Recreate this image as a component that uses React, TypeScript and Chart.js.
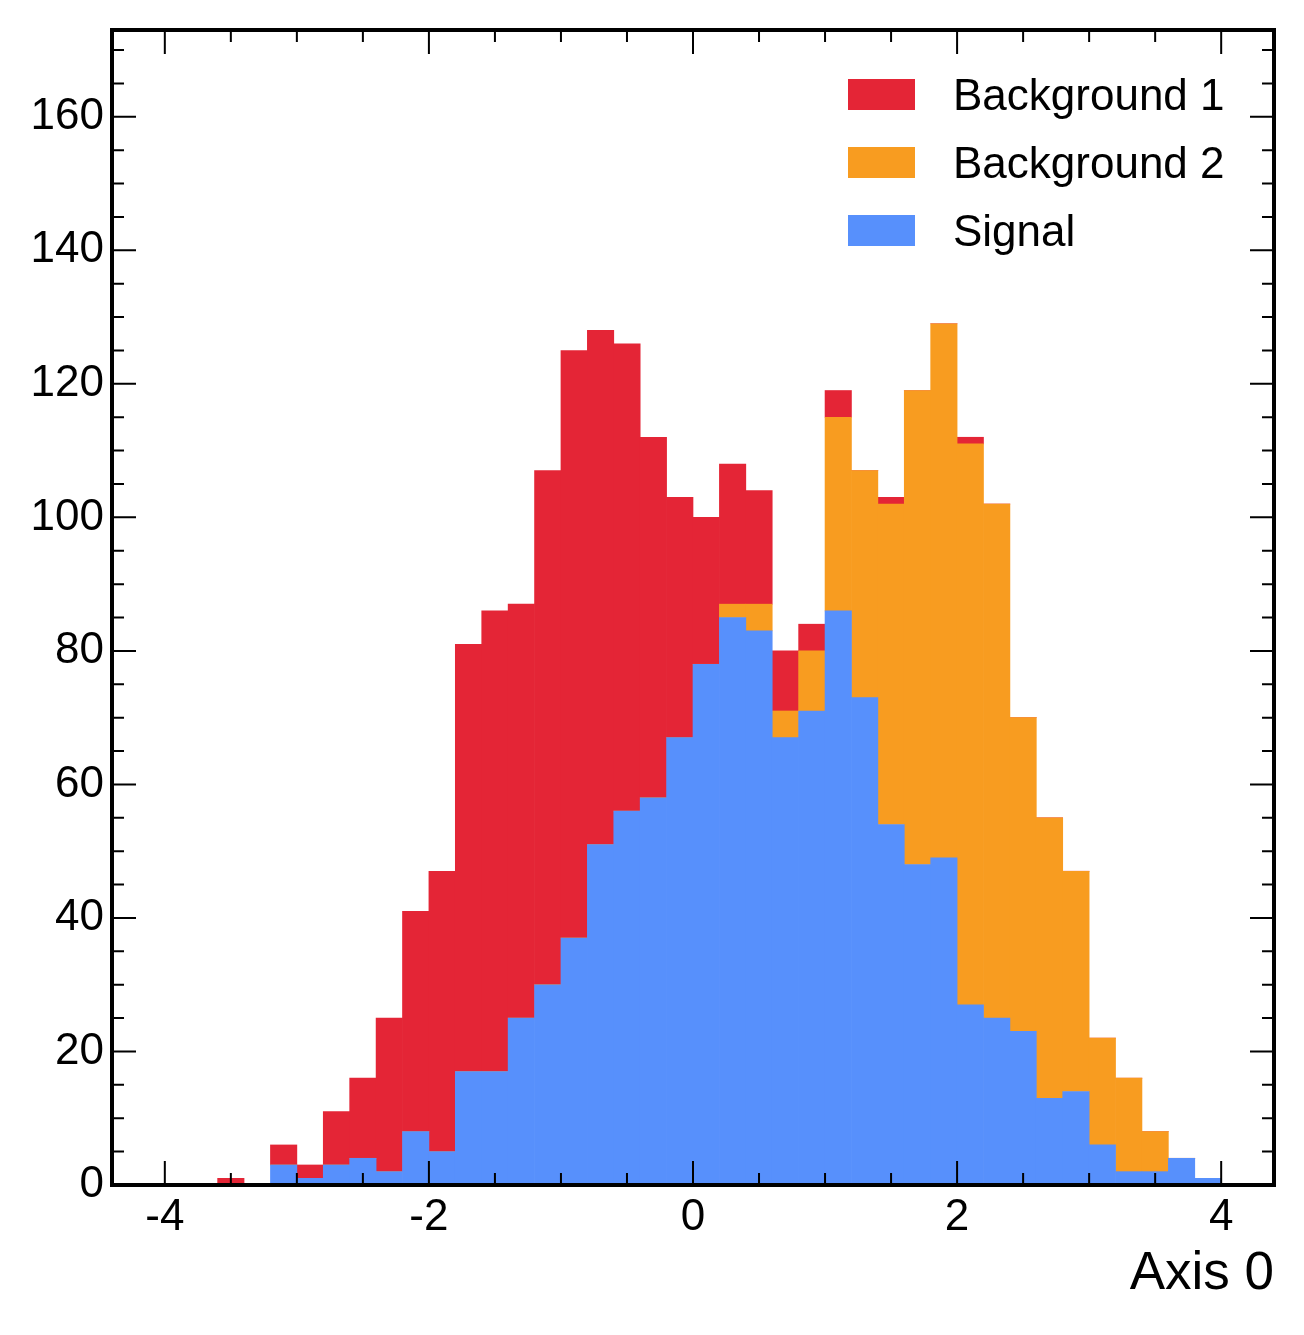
import React, { useEffect, useRef } from 'react';
import { Chart, registerables } from 'chart.js';

Chart.register(...registerables);

// ---- data ----
const binEdges = [
  -4.0, -3.8, -3.6, -3.4, -3.2, -3.0, -2.8, -2.6, -2.4, -2.2,
  -2.0, -1.8, -1.6, -1.4, -1.2, -1.0, -0.8, -0.6, -0.4, -0.2,
  0.0, 0.2, 0.4, 0.6, 0.8, 1.0, 1.2, 1.4, 1.6, 1.8,
  2.0, 2.2, 2.4, 2.6, 2.8, 3.0, 3.2, 3.4, 3.6, 3.8, 4.0,
];

const signal = [
  0, 0, 0, 0, 3, 1, 3, 4, 2, 8,
  5, 17, 17, 25, 30, 37, 51, 56, 58, 67,
  78, 85, 83, 67, 71, 86, 73, 54, 48, 49,
  27, 25, 23, 13, 14, 6, 2, 2, 4, 1,
];

const background2 = [
  0, 0, 0, 0, 0, 0, 0, 0, 0, 0,
  0, 0, 0, 0, 0, 0, 0, 0, 0, 0,
  0, 2, 4, 4, 9, 29, 34, 48, 71, 80,
  84, 77, 47, 42, 33, 16, 14, 6, 0, 0,
];

const background1 = [
  0, 0, 1, 0, 3, 2, 8, 12, 23, 33,
  42, 64, 69, 62, 77, 88, 77, 70, 54, 36,
  22, 21, 17, 9, 4, 4, 0, 1, 0, 0,
  1, 0, 0, 0, 0, 0, 0, 0, 0, 0,
];

const seriesLabels = ['Signal', 'Background 2', 'Background 1'];
const seriesColors = ['#5790fc', '#f89c20', '#e42536'];

const xTickValues = [-4, -2, 0, 2, 4];
const xTickLabels = ['-4', '-2', '0', '2', '4'];
const yTickValues = [0, 20, 40, 60, 80, 100, 120, 140, 160];
const yTickLabels = ['0', '20', '40', '60', '80', '100', '120', '140', '160'];
const xMinorStep = 0.5;
const yMinorStep = 5;

const xMin = -4.4;
const xMax = 4.4;
const yMin = 0;
const yMax = 173;
const xTitle = 'Axis 0';

const FONT = '"Liberation Sans", Arial, Helvetica, sans-serif';

const toPoints = (vals: number[]) =>
  vals.map((v, i) => ({ x: (binEdges[i] + binEdges[i + 1]) / 2, y: v }));

const frameTicksPlugin = {
  id: 'frameTicks',
  afterDraw(chart: any) {
    const ctx = chart.ctx as CanvasRenderingContext2D;
    const { left, right, top, bottom } = chart.chartArea;
    const xs = chart.scales.x;
    const ys = chart.scales.y;

    // legend (reverse dataset order)
    const ds = chart.data.datasets.slice().reverse();
    ctx.save();
    ctx.font = `44px ${FONT}`;
    ctx.textAlign = 'left';
    ctx.textBaseline = 'alphabetic';
    ds.forEach((d: any, i: number) => {
      const boxTop = top + 49 + i * 68;
      ctx.fillStyle = d.backgroundColor;
      ctx.fillRect(right - 426, boxTop, 67, 31);
      ctx.fillStyle = '#000';
      ctx.fillText(d.label, right - 321, boxTop + 31);
    });
    ctx.restore();

    // ticks
    ctx.save();
    ctx.strokeStyle = '#000';
    ctx.lineWidth = 2;
    const major = 24;
    const minor = 12;
    ctx.beginPath();
    const xStart = Math.ceil(xMin / xMinorStep) * xMinorStep;
    for (let v = xStart; v <= xMax + 1e-9; v += xMinorStep) {
      const vv = Math.round(v * 1000) / 1000;
      const isMajor = xTickValues.some((t) => Math.abs(t - vv) < 1e-9);
      const len = isMajor ? major : minor;
      const px = xs.getPixelForValue(vv);
      ctx.moveTo(px, bottom);
      ctx.lineTo(px, bottom - len);
      ctx.moveTo(px, top);
      ctx.lineTo(px, top + len);
    }
    for (let v = yMin; v <= yMax + 1e-9; v += yMinorStep) {
      const isMajor = yTickValues.some((t) => Math.abs(t - v) < 1e-9);
      const len = isMajor ? major : minor;
      const py = ys.getPixelForValue(v);
      ctx.moveTo(left, py);
      ctx.lineTo(left + len, py);
      ctx.moveTo(right, py);
      ctx.lineTo(right - len, py);
    }
    ctx.stroke();

    // frame
    ctx.lineWidth = 4;
    ctx.strokeRect(left, top, right - left, bottom - top);
    ctx.restore();
  },
};

export default function App() {
  const canvasRef = useRef<HTMLCanvasElement | null>(null);

  useEffect(() => {
    if (!canvasRef.current) return;
    Chart.defaults.font.family = FONT;
    const seriesValues = [signal, background2, background1];
    const chart = new Chart(canvasRef.current, {
      type: 'bar',
      data: {
        datasets: seriesValues.map((vals, i) => ({
          label: seriesLabels[i],
          data: toPoints(vals),
          backgroundColor: seriesColors[i],
          borderWidth: 0,
          barPercentage: 1,
          categoryPercentage: 1,
        })),
      },
      options: {
        responsive: false,
        devicePixelRatio: 1,
        animation: false,
        layout: { padding: { top: 30, right: 30, left: 0, bottom: 0 } },
        plugins: {
          legend: { display: false },
          tooltip: { enabled: false },
        },
        scales: {
          x: {
            type: 'linear',
            min: xMin,
            max: xMax,
            offset: false,
            stacked: true,
            grid: { display: false, drawTicks: false },
            border: { display: false },
            ticks: {
              font: { size: 44, family: FONT },
              color: '#000',
              padding: 6,
              maxRotation: 0,
              autoSkip: false,
              callback: (value: any) => {
                const idx = xTickValues.indexOf(Number(value));
                return idx >= 0 ? xTickLabels[idx] : '';
              },
            },
            afterBuildTicks: (scale: any) => {
              scale.ticks = xTickValues.map((v) => ({ value: v }));
            },
            afterFit: (scale: any) => {
              scale.height = 150;
              scale.paddingLeft = 0;
              scale.paddingRight = 0;
            },
            title: {
              display: true,
              text: xTitle,
              align: 'end',
              color: '#000',
              font: { size: 53, family: FONT },
              padding: { top: 0, bottom: 29 },
            },
          },
          y: {
            type: 'linear',
            min: yMin,
            max: yMax,
            stacked: true,
            grid: { display: false, drawTicks: false },
            border: { display: false },
            ticks: {
              font: { size: 44, family: FONT },
              color: '#000',
              padding: 8,
              autoSkip: false,
              callback: (value: any) => {
                const idx = yTickValues.indexOf(Number(value));
                return idx >= 0 ? yTickLabels[idx] : '';
              },
            },
            afterBuildTicks: (scale: any) => {
              scale.ticks = yTickValues.map((v) => ({ value: v }));
            },
            afterFit: (scale: any) => {
              scale.width = 112;
              scale.paddingTop = 0;
              scale.paddingBottom = 0;
            },
          },
        },
      },
      plugins: [frameTicksPlugin],
    } as any);
    return () => chart.destroy();
  }, []);

  return (
    <div style={{ position: 'absolute', left: 0, top: 0, width: 1304, height: 1335, background: '#fff' }}>
      <canvas ref={canvasRef} width={1304} height={1335} style={{ display: 'block', width: 1304, height: 1335 }} />
    </div>
  );
}
